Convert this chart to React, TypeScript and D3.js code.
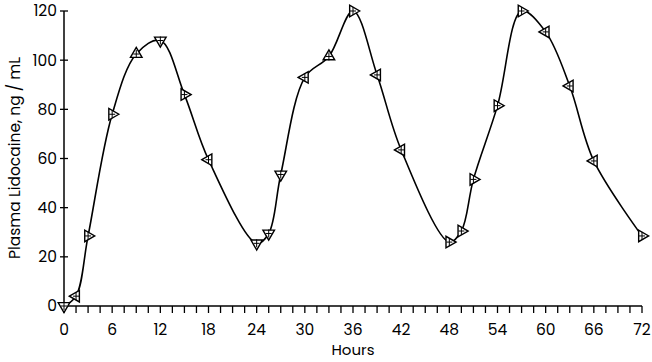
import React from "react";
import * as d3 from "d3";

const hours = [0, 1.5, 3, 6, 9, 12, 15, 18, 24, 25.5, 27, 30, 33, 36, 39, 42, 48, 49.5, 51, 54, 57, 60, 63, 66, 72];
const lidocaine = [0, 4, 28.5, 78, 102.5, 108, 86, 59.5, 25.5, 29.5, 53.5, 93, 101.5, 120, 94, 63.5, 26, 30.5, 51.5, 81.5, 120, 111.5, 89.5, 59, 28.5];
const markerDir = ["down", "left", "right", "right", "up", "down", "right", "left", "down", "down", "down", "left", "up", "right", "left", "left", "right", "right", "right", "right", "right", "left", "left", "left", "right"];
const xTickLabels = [0, 6, 12, 18, 24, 30, 36, 42, 48, 54, 60, 66, 72];
const yTickLabels = [0, 20, 40, 60, 80, 100, 120];

const W = 652;
const H = 362;
const font = "Poppins, Inter, 'Open Sans', sans-serif";

export default function App() {
  const x = d3.scaleLinear().domain([0, 72]).range([64, 642]);
  const y = d3.scaleLinear().domain([0, 120]).range([306, 11]);
  const line = d3
    .line<number>()
    .x((_, i) => x(hours[i]))
    .y((d) => y(d))
    .curve(d3.curveCatmullRom.alpha(0.5));
  const minor = d3.range(0, 72.001, 1.5);
  const tri = d3.symbol().type(d3.symbolTriangle).size(58)() as string;
  const rot: Record<string, number> = { up: 0, right: 90, down: 180, left: 270 };
  return (
    <svg
      width={W}
      height={H}
      style={{ position: "fixed", left: 0, top: 0, background: "#fff" }}
      fontFamily={font}
    >
      <rect width={W} height={H} fill="#fff" />
      <line x1={x(0)} x2={x(72)} y1={y(0)} y2={y(0)} stroke="#000" strokeWidth={1.5} />
      <line x1={x(0)} x2={x(0)} y1={y(0)} y2={y(120)} stroke="#000" strokeWidth={1.5} />
      {minor.map((t) => (
        <line key={"mx" + t} x1={x(t)} x2={x(t)} y1={y(0)} y2={y(0) + 7} stroke="#000" strokeWidth={1.3} />
      ))}
      {xTickLabels.map((t) => (
        <text key={"xl" + t} x={x(t)} y={335} fontSize={15.5} textAnchor="middle" fill="#000">
          {t}
        </text>
      ))}
      {yTickLabels.map((v) => (
        <g key={"yl" + v}>
          <line x1={x(0) - 4} x2={x(0) + 4} y1={y(v)} y2={y(v)} stroke="#000" strokeWidth={1.3} />
          <text x={57} y={y(v)} dy="0.35em" fontSize={15.5} textAnchor="end" fill="#000">
            {v}
          </text>
        </g>
      ))}
      <text x={353} y={355} fontSize={15} textAnchor="middle" fill="#000">
        Hours
      </text>
      <text
        transform={`translate(20,${158}) rotate(-90)`}
        fontSize={15.5}
        textAnchor="middle"
        fill="#000"
      >
        Plasma Lidocaine, ng / mL
      </text>
      <path d={line(lidocaine) || ""} fill="none" stroke="#000" strokeWidth={1.6} />
      {lidocaine.map((v, i) => (
        <g key={"m" + i} transform={`translate(${x(hours[i])},${y(v)})`}>
          <path d={tri} transform={`rotate(${rot[markerDir[i]]})`} fill="#fff" stroke="#000" strokeWidth={1.4} />
          <line x1={0} x2={0} y1={-4} y2={4} stroke="#000" strokeWidth={1} />
          <line x1={-3} x2={3} y1={0} y2={0} stroke="#000" strokeWidth={1} />
        </g>
      ))}
    </svg>
  );
}
